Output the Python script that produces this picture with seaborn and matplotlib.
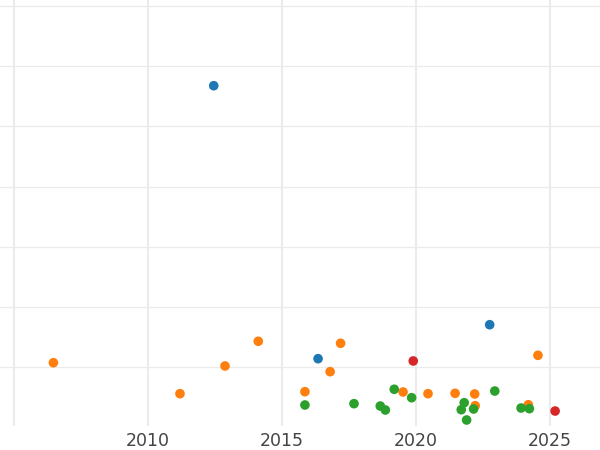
import matplotlib
matplotlib.use("Agg")
import matplotlib.pyplot as plt
import seaborn as sns
import pandas as pd

# Data
blue_x = [2012.46, 2016.35, 2022.75]
blue_y = [567.6, 114.3, 170.7]

orange_x = [2006.48, 2011.20, 2012.88, 2014.12, 2015.86, 2016.80, 2017.19,
            2019.52, 2020.45, 2021.46, 2022.19, 2022.21, 2024.19, 2024.55]
orange_y = [107.6, 56.2, 102.2, 143.2, 59.5, 92.7, 139.9,
            59.0, 56.2, 56.8, 55.7, 36.2, 37.9, 119.9]

green_x = [2015.86, 2017.69, 2018.67, 2018.86, 2019.19, 2019.84, 2021.80,
           2021.69, 2021.89, 2022.15, 2022.94, 2023.92, 2024.23]
green_y = [37.4, 39.6, 35.7, 29.1, 63.5, 49.5, 41.2,
           29.6, 12.5, 30.8, 60.6, 32.4, 31.3]

red_x = [2019.90, 2025.19]
red_y = [110.5, 27.4]

groups = ["A", "B", "C", "D"]
palette = ["#1f77b4", "#ff7f0e", "#2ca02c", "#d62728"]

x_ticks = [2005, 2010, 2015, 2020, 2025]
x_tick_labels = ["", "2010", "2015", "2020", "2025"]
y_ticks = [100, 200, 300, 400, 500, 600, 700]

frames = []
for g, xs, ys in zip(groups, [blue_x, orange_x, green_x, red_x],
                     [blue_y, orange_y, green_y, red_y]):
    frames.append(pd.DataFrame({"year": xs, "value": ys, "group": g}))
df = pd.concat(frames, ignore_index=True)

sns.set_theme(style="whitegrid")
fig = plt.figure(figsize=(6, 4.5), dpi=100)
ax = fig.add_axes([0, 24 / 450, 1, 426 / 450])

sns.scatterplot(data=df, x="year", y="value", hue="group", hue_order=groups,
                palette=palette, s=48, linewidth=0, ax=ax, legend=False)

ax.set_xlim(2004.489, 2026.864)
ax.set_ylim(2.52, 709.9)
ax.set_xticks(x_ticks)
ax.set_xticklabels(x_tick_labels)
ax.set_yticks(y_ticks)
ax.set_yticklabels([])
ax.set_xlabel("")
ax.set_ylabel("")
ax.tick_params(axis="both", length=0)
ax.tick_params(axis="x", pad=4, labelsize=12.5, labelcolor="#444444")
ax.grid(axis="x", color="#ebebeb", linewidth=1.5)
ax.grid(axis="y", color="#ebebeb", linewidth=0.9)
for sp in ax.spines.values():
    sp.set_visible(False)
ax.set_facecolor("white")

fig.savefig("out.png", dpi=100, facecolor="white")
